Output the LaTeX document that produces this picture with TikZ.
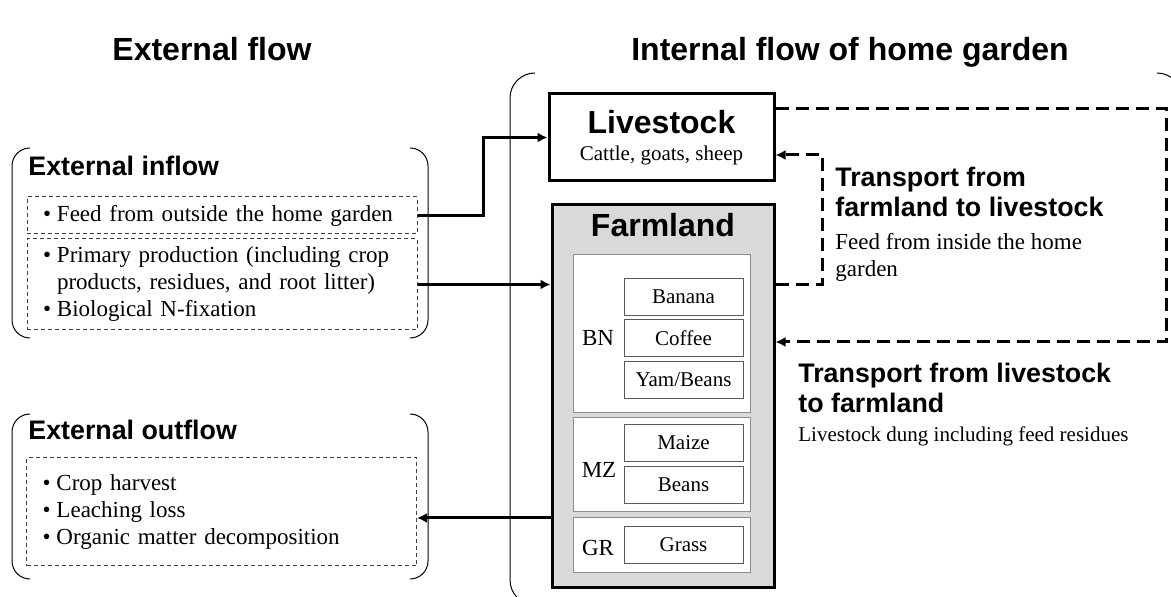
\documentclass[tikz,border=0pt]{standalone}
\usepackage{fontspec}
\setmainfont{Liberation Serif}
\setsansfont{Liberation Sans}
\usetikzlibrary{arrows.meta}
\newcommand\itm{\makebox[7pt][l]{\textbullet}}

\begin{document}
\begin{tikzpicture}[x=0.5pt, y=-0.5pt,
  hd/.style={font=\sffamily\bfseries\fontsize{16}{19}\selectfont},
  sub/.style={font=\sffamily\bfseries\fontsize{13.4}{15}\selectfont,align=left,inner sep=0pt},
  txt/.style={font=\fontsize{11.5}{13.5}\selectfont},
  dbox/.style={draw=black!75,line width=0.5pt,dash pattern=on 2pt off 1.5pt,txt,align=left,
    text width=179pt,inner xsep=8pt,inner ysep=0pt},
  grp/.style={draw=black!45,line width=0.5pt,fill=white,minimum width=88.5pt,inner sep=0pt},
  item/.style={draw=black!65,line width=0.5pt,fill=white,minimum width=59.5pt,minimum height=18.5pt,
    inner sep=0pt,font=\fontsize{10.5}{12}\selectfont},
  lbl/.style={font=\fontsize{11.5}{13}\selectfont},
  brk/.style={line width=0.5pt},
  flow/.style={line width=1.5pt,-{Latex[length=5pt,width=5pt]}},
  dflow/.style={flow,dash pattern=on 6.5pt off 3.5pt}]
\clip (0,0) rectangle (1171,597);
% headings
\node[hd,anchor=base] (hdE) at (212,61) {External flow};
\node[hd,anchor=base] (hdI) at (850,61) {Internal flow of home garden};
% brackets
\draw[brk,rounded corners=9pt] (30,148) -- (12,148) -- (12,338) -- (30,338);
\draw[brk,rounded corners=9pt] (410,148) -- (428,148) -- (428,338) -- (410,338);
\draw[brk,rounded corners=9pt] (30,414) -- (12,414) -- (12,579) -- (30,579);
\draw[brk,rounded corners=9pt] (410,414) -- (428,414) -- (428,579) -- (410,579);
\draw[brk,rounded corners=12.5pt] (535,73) -- (510,73) -- (510,605) -- (535,605);
\draw[brk,rounded corners=12.5pt] (1157,73) -- (1182,73) -- (1182,605) -- (1157,605);
% external flow
\node[sub,anchor=base west] (inT) at (28,176) {External inflow};
\node[dbox,minimum height=18.5pt] (feed) at (222,215.5) {\itm Feed from outside the home garden};
\node[dbox,minimum height=45.5pt] (prim) at (222,284.5) {\itm Primary production (including crop\\
  \hspace*{7pt}products, residues, and root litter)\\\itm Biological N-fixation};
\node[sub,anchor=base west] (outT) at (28,440) {External outflow};
\node[dbox,minimum height=54pt] (out) at (221.5,512) {\itm Crop harvest\\\itm Leaching loss\\
  \itm Organic matter decomposition};
% livestock and farmland
\node[draw,line width=1.5pt,fill=white,minimum width=112.5pt,minimum height=43.5pt,inner sep=0pt,
  align=center,font=\fontsize{10.5}{13.5}\selectfont] (live) at (661.5,137.5)
  {{\sffamily\bfseries\fontsize{16}{13.5}\selectfont Livestock}\\Cattle, goats, sheep};
\node[draw,line width=1.5pt,fill=black!15,minimum width=111pt,minimum height=191pt,inner sep=0pt] (farm) at (663,396) {};
\node[hd,anchor=base] (farmT) at (663,237) {Farmland};
\node[grp,minimum height=79pt] (bn) at (661.5,334) {};
\node[grp,minimum height=47pt] (mz) at (661.5,465) {};
\node[grp,minimum height=27.5pt] (gr) at (661.5,545.5) {};
\node[item] (banana) at (683.5,297) {Banana};
\node[item] (coffee) at (683.5,338) {Coffee};
\node[item] (yam) at (683.5,380) {Yam/Beans};
\node[item] (maize) at (683.5,443) {Maize};
\node[item] (beans) at (683.5,485) {Beans};
\node[item] (grass) at (683.5,545) {Grass};
\node[lbl] (bnL) at (598,338) {BN};
\node[lbl] (mzL) at (599,470) {MZ};
\node[lbl] (grL) at (598,548) {GR};
% flows
\coordinate (loopR) at (1166,109);
\coordinate (loopL) at (822,155);
\coordinate (outIn) at ([yshift=-3pt]out.east);
\draw[flow] (feed.east) -- ++(66,0) |- (live.west);
\draw[flow] (prim.east) -- (prim.east -| farm.west);
\draw[flow] (farm.west |- outIn) -- (outIn);
\draw[dflow] (live.east |- loopR) -- (loopR) |- ([yshift=27pt]farm.east);
\draw[dflow] ([yshift=55.5pt]farm.east) -| (loopL) -- (live.east |- loopL);
\node[sub,anchor=base west] (tr1) at (835,217) {Transport from\\farmland to livestock};
\node[txt,anchor=base west,align=left,inner sep=0pt] (tr1s) at (835,277) {Feed from inside the home\\garden};
\node[sub,anchor=base west] (tr2) at (798,413) {Transport from livestock\\to farmland};
\node[anchor=base west,inner sep=0pt,font=\fontsize{10.5}{12}\selectfont] (tr2s) at (798,442) {Livestock dung including feed residues};
\end{tikzpicture}
\end{document}
